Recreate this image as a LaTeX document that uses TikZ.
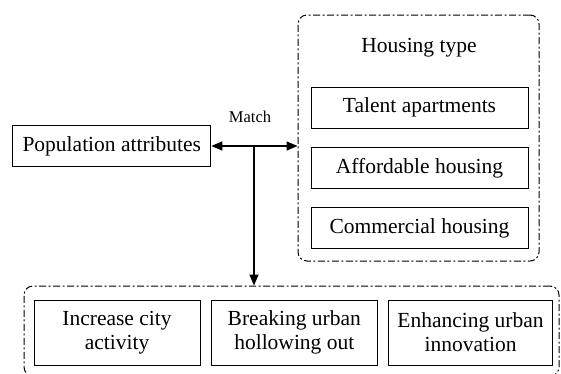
\documentclass[tikz,border=0pt]{standalone}
\usepackage{fontspec}
\setmainfont{Liberation Serif}
\usetikzlibrary{arrows.meta}
\begin{document}
\begin{tikzpicture}[x=1pt,y=-1pt,
  box/.style={draw,line width=1pt,inner sep=0pt,font=\fontsize{21.5}{24}\selectfont,align=center},
  group/.style={draw,line width=1pt,rounded corners=9pt,dash pattern=on 7pt off 2.5pt on 2pt off 2.5pt},
  arr/.style={line width=1.3pt,-{Triangle[length=11pt,width=9pt]}},
  darr/.style={line width=1.3pt,{Triangle[length=11pt,width=9pt]}-{Triangle[length=11pt,width=9pt]}}]
\useasboundingbox (0,0) rectangle (561,373);
\clip (0,0) rectangle (561,373);
% housing group
\node[group,minimum width=241pt,minimum height=246pt,inner sep=0pt] (house) at (418.5,138) {};
\node[font=\fontsize{21.5}{24}\selectfont] (htype) at (419,48) {Housing type};
\node[box,minimum width=217pt,minimum height=41pt] (talent) at (419.5,107.5) {Talent apartments};
\node[box,minimum width=217pt,minimum height=41pt] (afford) at (419.5,168) {Affordable housing};
\node[box,minimum width=217pt,minimum height=41pt] (comm) at (419.5,228) {Commercial housing};
% population
\node[box,minimum width=198pt,minimum height=41pt] (pop) at (111.8,146) {Population attributes};
% bottom group
\node[group,minimum width=535pt,minimum height=90pt,inner sep=0pt] (bot) at (291.5,331) {};
\node[box,minimum width=166pt,minimum height=65pt] (b1) at (117,332.5) {Increase city\\activity};
\node[box,minimum width=166pt,minimum height=65pt] (b2) at (294.3,332.5) {Breaking urban\\hollowing out};
\node[box,minimum width=164pt,minimum height=65pt] (b3) at (470.5,332.5) {Enhancing urban\\innovation};
% connectors
\coordinate (j) at (254,146);
\draw[darr] (pop.east) -- (pop.east -| house.west);
\draw[arr] (j) -- (j |- bot.north);
\node[font=\fontsize{16.5}{18}\selectfont] (match) at (250,117) {Match};
\end{tikzpicture}
\end{document}
